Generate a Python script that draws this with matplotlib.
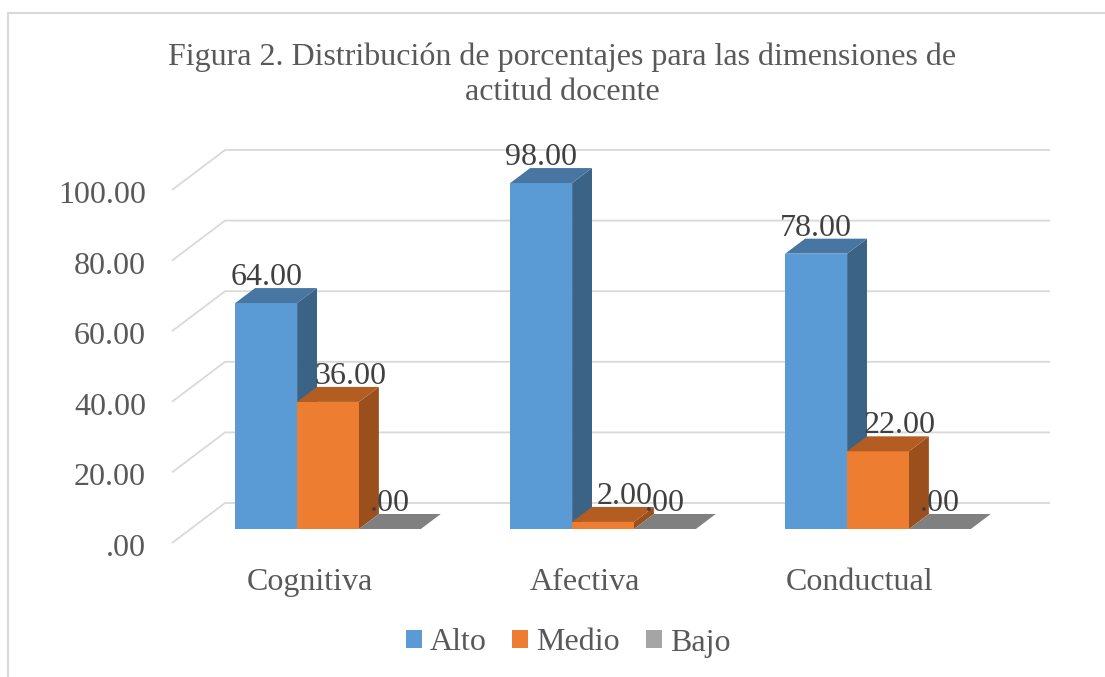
import numpy as np
import matplotlib
matplotlib.use("Agg")
from matplotlib import pyplot as plt
from matplotlib.patches import Polygon, Patch, Rectangle

# data
categories = ["Cognitiva", "Afectiva", "Conductual"]
series = ["Alto", "Medio", "Bajo"]
alto = [64.00, 98.00, 78.00]
medio = [36.00, 2.00, 22.00]
bajo = [0.00, 0.00, 0.00]
yticks = [0, 20, 40, 60, 80, 100]

title_lines = ["Figura 2. Distribución de porcentajes para las dimensiones de",
               "actitud docente"]

# colours: front, top, side
front_cols = ["#5B9BD5", "#ED7D31", "#A5A5A5"]
top_cols = ["#4776A2", "#B45D22", "#808080"]
side_cols = ["#3A6386", "#9A4F1C", "#6E6E6E"]

W, H = 1105, 677
FS = 23
plt.rcParams["font.family"] = ["Liberation Serif", "DejaVu Serif"]

fig = plt.figure(figsize=(W / 100, H / 100), dpi=100)
ax = fig.add_axes([0, 0, 1, 1])
ax.axis("off")

# pseudo 3d frame: front floor starts at px 172, 275 px per category,
# value 0 at px 543, 3.53 px per unit
x0px, catpx, y0px, unitpx = 172, 275.0, 543, 3.53
ax.set_xlim(-x0px / catpx, (W - x0px) / catpx)
ax.set_ylim((y0px - H) / unitpx, y0px / unitpx)

DX = 53 / catpx      # depth offset in x (category units)
DY = 40 / unitpx     # depth offset in y (value units)
ncat = len(categories)

# gridlines
for v in yticks:
    ax.plot([0, DX, ncat + DX], [v, v + DY, v + DY], color="#D9D9D9", lw=1.3,
            zorder=1, solid_capstyle="butt")
    lab = ".00" if v == 0 else f"{v:.2f}"
    ax.annotate(lab, (0, v), xytext=(-26, -13), textcoords="offset pixels",
                ha="right", va="baseline", fontsize=FS, color="#595959")

# bars
bw = 0.225
gap = (1 - 3 * bw) / 2
f0, f1 = 0.35, 0.725
label_dx = [0, 22, 0]
for j, vals in enumerate([alto, medio, bajo]):
    for i, v in enumerate(vals):
        xl = i + gap + j * bw + f0 * DX
        xr = xl + bw
        b0 = f0 * DY
        ddx = (f1 - f0) * DX
        ddy = (f1 - f0) * DY
        if v > 0:
            ax.add_patch(Polygon([(xl, b0), (xr, b0), (xr, b0 + v), (xl, b0 + v)],
                                 closed=True, fc=front_cols[j], ec="none", zorder=3))
            ax.add_patch(Polygon([(xr, b0), (xr + ddx, b0 + ddy), (xr + ddx, b0 + v + ddy),
                                  (xr, b0 + v)],
                                 closed=True, fc=side_cols[j], ec="none", zorder=3))
        ax.add_patch(Polygon([(xl, b0 + v), (xr, b0 + v), (xr + ddx, b0 + v + ddy),
                              (xl + ddx, b0 + v + ddy)],
                             closed=True, fc=top_cols[j], ec="none", zorder=3))
        lab = ".00" if v == 0 else f"{v:.2f}"
        ax.annotate(lab, ((xl + xr) / 2, b0 + v + ddy), xytext=(label_dx[j], 3),
                    textcoords="offset pixels", ha="center", va="baseline",
                    fontsize=FS, color="#404040", zorder=5)

# category labels
for i, c in enumerate(categories):
    ax.annotate(c, (i + 0.5, 0), xytext=(0, -47), textcoords="offset pixels",
                ha="center", va="baseline", fontsize=FS, color="#595959")

# title (two lines, baselines at px 65 and 100)
for k, line in enumerate(title_lines):
    fig.text(562 / W, 1 - (65 + 35 * k) / H, line, ha="center", va="baseline",
             fontsize=FS, color="#595959")

# legend
handles = [Patch(fc=c, ec="none") for c in front_cols]
fig.legend(handles, series, loc="center", bbox_to_anchor=(568 / W, 1 - 643 / H),
           ncol=3, frameon=False, fontsize=FS, labelcolor="#595959",
           handlelength=0.5, handleheight=0.5, handletextpad=0.26,
           columnspacing=0.8)

# chart border
fig.patches.append(Rectangle((8 / W, -0.1), 1.2, 1.1 - 13 / H, transform=fig.transFigure,
                             fill=False, ec="#D9D9D9", lw=1.5))

fig.savefig("out.png", dpi=100)
